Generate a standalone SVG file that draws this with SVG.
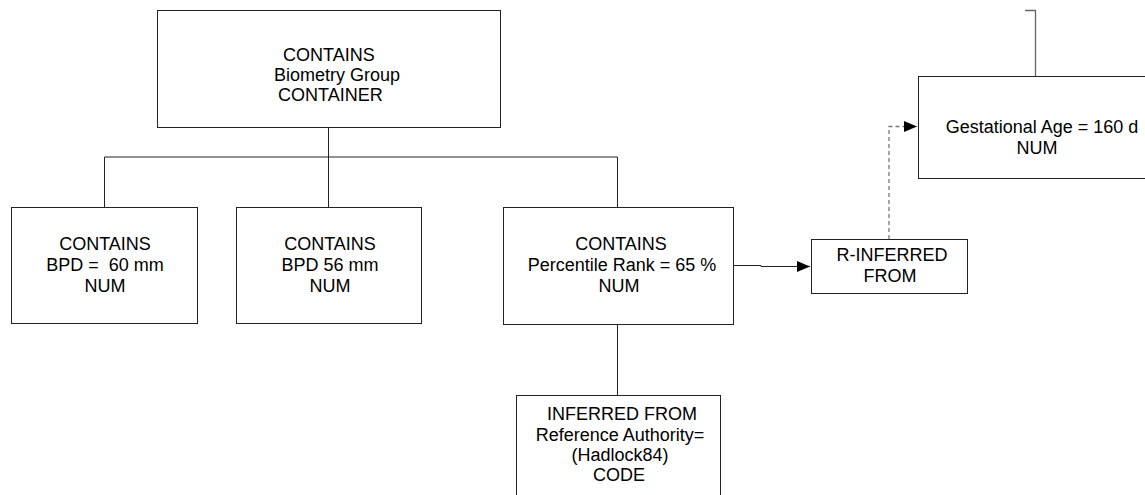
<svg xmlns="http://www.w3.org/2000/svg" width="1145" height="495" viewBox="0 0 1145 495">
<style>
.box{fill:#fff;stroke:#222;stroke-width:1}
.t{font-family:"Liberation Sans",Arial,sans-serif;font-size:18px;fill:#000;text-anchor:middle;white-space:pre}
.ts{font-family:"Liberation Sans",Arial,sans-serif;font-size:18px;fill:#000}
.c{fill:none;stroke:#222;stroke-width:1}
.g{fill:none;stroke:#666;stroke-width:1.3}
.d{fill:none;stroke:#777;stroke-width:1.3;stroke-dasharray:4,3}
</style>
<defs>
<marker id="ah" markerWidth="13" markerHeight="12" refX="13" refY="6" orient="auto" markerUnits="userSpaceOnUse">
<path d="M0,0.5 L13,6 L0,11.5 Z" fill="#000"/>
</marker>
</defs>
<g id="connectors">
<path class="c" d="M328.5,127 V157 M104.5,157 H617.5 M104.5,157 V207 M328.5,157 V207 M617.5,157 V207"/>
<path class="c" d="M733,265.5 H761 V266.5 H810" marker-end="url(#ah)"/>
<path class="d" d="M889,239 V126.5 H917" marker-end="url(#ah)"/>
<path class="c" d="M617.5,324 V395"/>
<path class="g" d="M1035.5,76 V10.5 H1025"/>
</g>
<g id="n-top">
<rect class="box" x="157.5" y="10.5" width="343" height="117"/>
<text class="ts" x="283" y="61">CONTAINS</text>
<text class="ts" x="274" y="81">Biometry Group</text>
<text class="ts" x="278" y="101">CONTAINER</text>
</g>
<g id="n-bpd60">
<rect class="box" x="11.5" y="207.5" width="186" height="116"/>
<text class="t" x="105" y="250">CONTAINS</text>
<text class="t" x="105" y="271" xml:space="preserve">BPD =  60 mm</text>
<text class="t" x="105" y="292">NUM</text>
</g>
<g id="n-bpd56">
<rect class="box" x="236.5" y="207.5" width="185" height="116"/>
<text class="t" x="330" y="250">CONTAINS</text>
<text class="t" x="330" y="271">BPD 56 mm</text>
<text class="t" x="330" y="292">NUM</text>
</g>
<g id="n-pr">
<rect class="box" x="503.5" y="207.5" width="230" height="117"/>
<text class="t" x="621" y="250">CONTAINS</text>
<text class="t" x="622" y="271">Percentile Rank = 65 %</text>
<text class="t" x="619" y="292">NUM</text>
</g>
<g id="n-rinf">
<rect class="box" x="811.5" y="239.5" width="156" height="54"/>
<text class="t" x="892" y="261">R-INFERRED</text>
<text class="t" x="890" y="282">FROM</text>
</g>
<g id="n-ga">
<rect class="box" x="918.5" y="76.5" width="240" height="102"/>
<text class="t" x="1042" y="133">Gestational Age = 160 d</text>
<text class="t" x="1037" y="154">NUM</text>
</g>
<g id="n-ref">
<rect class="box" x="516.5" y="395.5" width="204" height="110"/>
<text class="t" x="622" y="420">INFERRED FROM</text>
<text class="t" x="620" y="441">Reference Authority=</text>
<text class="t" x="620" y="461">(Hadlock84)</text>
<text class="t" x="619" y="481">CODE</text>
</g>
</svg>
